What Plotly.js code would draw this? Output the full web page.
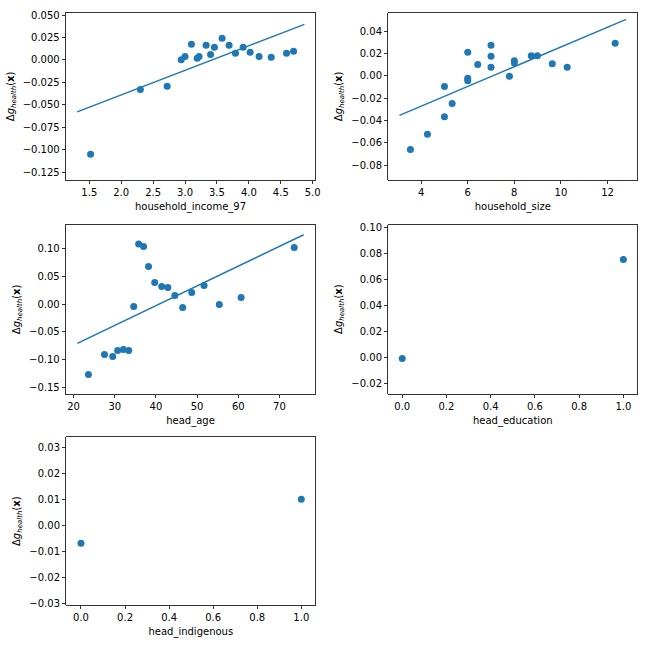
<!DOCTYPE html>
<html>
<head>
<meta charset="utf-8">
<script src="https://cdn.plot.ly/plotly-3.0.1.min.js"></script>
<style>html,body{margin:0;padding:0;background:#fff}#chart{width:648px;height:648px}</style>
</head>
<body>
<div id="chart"></div>
<script>
// ---- data ----
const incomeX = [1.52, 2.30, 2.72, 2.94, 3.00, 3.10, 3.19, 3.22, 3.33, 3.40, 3.46, 3.58, 3.69, 3.79, 3.91, 4.02, 4.16, 4.35, 4.59, 4.70];
const incomeY = [-0.1053, -0.0329, -0.0295, 0.0002, 0.0039, 0.0173, 0.0017, 0.0039, 0.0162, 0.0061, 0.0140, 0.0240, 0.0162, 0.0073, 0.0140, 0.0084, 0.0039, 0.0028, 0.0073, 0.0095];
const incomeLineX = [1.31, 4.87];
const incomeLineY = [-0.058, 0.0396];

const sizeX = [3.54, 4.27, 5.0, 5.0, 5.33, 6.0, 6.0, 6.0, 6.43, 7.0, 7.0, 7.0, 7.79, 8.0, 8.0, 8.73, 8.99, 9.63, 10.27, 12.33];
const sizeY = [-0.066, -0.0525, -0.0096, -0.0367, -0.0249, 0.0209, -0.0024, -0.0045, 0.0101, 0.0272, 0.0173, 0.0075, -0.0006, 0.0134, 0.0116, 0.0179, 0.0179, 0.0107, 0.0075, 0.029];
const sizeLineX = [3.07, 12.8];
const sizeLineY = [-0.0355, 0.0504];

const ageX = [23.6, 27.5, 29.5, 30.7, 32.1, 33.4, 34.6, 35.8, 37.0, 38.2, 39.7, 41.4, 42.9, 44.6, 46.5, 48.7, 51.7, 55.4, 60.7, 73.6];
const ageY = [-0.1266, -0.0906, -0.0942, -0.0835, -0.0817, -0.0835, -0.0043, 0.1078, 0.1036, 0.0676, 0.0388, 0.0317, 0.0299, 0.0155, -0.0061, 0.0209, 0.0335, -0.0007, 0.0119, 0.1018];
const ageLineX = [20.9, 75.9];
const ageLineY = [-0.0705, 0.1245];

const eduX = [0, 1];
const eduY = [-0.0008, 0.0754];

const indigX = [0, 1];
const indigY = [-0.0068, 0.0101];

const xLabels = ['household_income_97', 'household_size', 'head_age', 'head_education', 'head_indigenous'];
const yLabel = 'Δ<i>g</i><sub><i>health</i></sub>(<b>x</b>)';

// ---- styling ----
const blue = '#1f77b4';
const font = {family: 'DejaVu Sans, sans-serif', size: 10, color: '#000'};

function scatter(x, y, xa, ya) {
  return {x: x, y: y, xaxis: xa, yaxis: ya, type: 'scatter', mode: 'markers',
          marker: {color: blue, size: 7, line: {width: 0}}, hoverinfo: 'skip'};
}
function line(x, y, xa, ya) {
  return {x: x, y: y, xaxis: xa, yaxis: ya, type: 'scatter', mode: 'lines',
          line: {color: blue, width: 1.5}, hoverinfo: 'skip'};
}

const traces = [
  line(incomeLineX, incomeLineY, 'x', 'y'), scatter(incomeX, incomeY, 'x', 'y'),
  line(sizeLineX, sizeLineY, 'x2', 'y2'), scatter(sizeX, sizeY, 'x2', 'y2'),
  line(ageLineX, ageLineY, 'x3', 'y3'), scatter(ageX, ageY, 'x3', 'y3'),
  scatter(eduX, eduY, 'x4', 'y4'),
  scatter(indigX, indigY, 'x5', 'y5')
];

const W = 648;
function ax(extra) {
  return Object.assign({
    showline: true, mirror: true, linecolor: '#000', linewidth: 0.8,
    ticks: 'outside', ticklen: 3.5, tickwidth: 0.8, tickcolor: '#000',
    showgrid: false, zeroline: false, tickfont: font, automargin: false,
    tickmode: 'linear'
  }, extra);
}
function xax(label, dom, range, dtick, tick0, fmt, anchor) {
  return ax({domain: [dom[0] / W, dom[1] / W], range: range, dtick: dtick, tick0: tick0,
    tickformat: fmt, anchor: anchor, title: {text: label, font: font, standoff: 5}});
}
function yax(dom, range, dtick, tick0, fmt, anchor) {
  return ax({domain: [1 - dom[1] / W, 1 - dom[0] / W], range: range, dtick: dtick, tick0: tick0,
    tickformat: fmt, anchor: anchor, title: {text: yLabel, font: font, standoff: 6}});
}

const layout = {
  width: 648, height: 648,
  margin: {l: 0, r: 0, t: 0, b: 0},
  paper_bgcolor: '#fff', plot_bgcolor: '#fff',
  showlegend: false, font: font,
  xaxis:  xax(xLabels[0], [66, 315], [1.135, 5.036], 0.5, 0, '.1f', 'y'),
  yaxis:  yax([12.7, 180], [-0.1339, 0.0526], 0.025, 0, '.3f', 'x'),
  xaxis2: xax(xLabels[1], [388.3, 637.3], [2.59, 13.28], 2, 0, 'd', 'y2'),
  yaxis2: yax([12.7, 180], [-0.0934, 0.0564], 0.02, 0, '.2f', 'x2'),
  xaxis3: xax(xLabels[2], [66, 315], [18.15, 78.65], 10, 0, 'd', 'y3'),
  yaxis3: yax([225, 393.7], [-0.161, 0.142], 0.05, 0, '.2f', 'x3'),
  xaxis4: xax(xLabels[3], [388.3, 637.3], [-0.063, 1.063], 0.2, 0, '.1f', 'y4'),
  yaxis4: yax([224.5, 393.7], [-0.028, 0.1023], 0.02, 0, '.2f', 'x4'),
  xaxis5: xax(xLabels[4], [66.3, 315.3], [-0.0666, 1.0635], 0.2, 0, '.1f', 'y5'),
  yaxis5: yax([437.3, 605], [-0.0304, 0.0338], 0.01, 0, '.2f', 'x5')
};

Plotly.newPlot('chart', traces, layout, {staticPlot: true, displayModeBar: false});
</script>
</body>
</html>
